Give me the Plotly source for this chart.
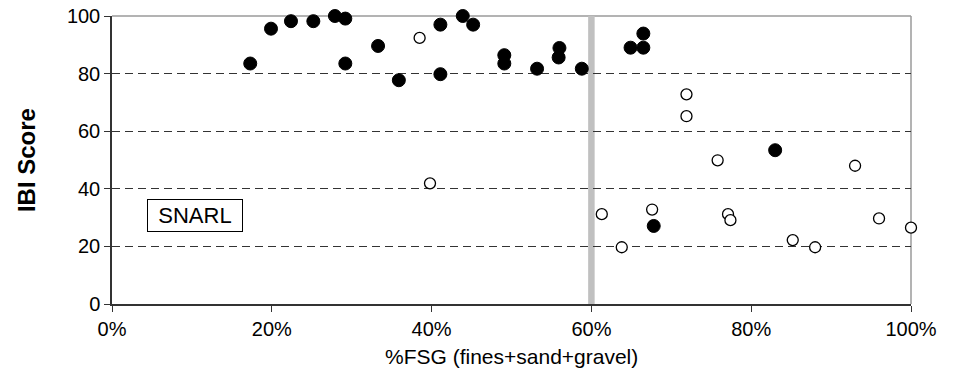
import plotly.graph_objects as go

# Filled (black) sites
filled_fsg = [0.173, 0.199, 0.224, 0.252, 0.279, 0.292, 0.292, 0.333, 0.359, 0.411, 0.411,
              0.439, 0.452, 0.491, 0.491, 0.532, 0.560, 0.559, 0.588, 0.649, 0.665, 0.665,
              0.678, 0.830]
filled_ibi = [83.5, 95.6, 98.2, 98.2, 100.0, 99.1, 83.5, 89.6, 77.7, 97.0, 79.8,
              100.0, 97.0, 86.4, 83.5, 81.7, 88.9, 85.6, 81.7, 89.0, 89.0, 93.9,
              27.1, 53.4]

# Open (white) sites
open_fsg = [0.385, 0.398, 0.613, 0.638, 0.676, 0.719, 0.719, 0.758, 0.771, 0.774,
            0.852, 0.880, 0.930, 0.960, 1.000]
open_ibi = [92.4, 41.9, 31.2, 19.7, 32.8, 72.8, 65.2, 49.9, 31.2, 29.1,
            22.2, 19.7, 48.0, 29.7, 26.5]

threshold = 0.60
x_ticks = [0, 0.2, 0.4, 0.6, 0.8, 1.0]
x_ticklabels = ["0%", "20%", "40%", "60%", "80%", "100%"]
y_ticks = [0, 20, 40, 60, 80, 100]

FONT = "Liberation Sans, Arial, sans-serif"

fig = go.Figure()

fig.add_trace(go.Scatter(
    x=filled_fsg, y=filled_ibi, mode="markers",
    marker=dict(symbol="circle", size=13, color="black", line=dict(color="black", width=1)),
    cliponaxis=False, showlegend=False,
))
fig.add_trace(go.Scatter(
    x=open_fsg, y=open_ibi, mode="markers",
    marker=dict(symbol="circle", size=11, color="white", line=dict(color="black", width=1.3)),
    cliponaxis=False, showlegend=False,
))

# threshold bar
fig.add_shape(type="line", xref="x", yref="y", x0=threshold, x1=threshold, y0=0, y1=100,
              line=dict(color="#c0c0c0", width=6.5), layer="below")
# top / right border
fig.add_shape(type="line", xref="paper", yref="paper", x0=0, x1=1, y0=1, y1=1,
              line=dict(color="#9a9a9a", width=1.5), layer="below")
fig.add_shape(type="line", xref="paper", yref="paper", x0=1, x1=1, y0=0, y1=1,
              line=dict(color="#9a9a9a", width=1.5), layer="below")

fig.add_annotation(
    x=0.104, y=30.7, xref="x", yref="y", text="SNARL", showarrow=False,
    font=dict(family=FONT, size=22, color="black"),
    bordercolor="black", borderwidth=1, borderpad=3, bgcolor="white",
    width=88, height=25, align="center",
    xanchor="center", yanchor="middle",
)

fig.update_xaxes(
    range=[0, 1], tickvals=x_ticks, ticktext=x_ticklabels,
    showgrid=False, zeroline=False, automargin=False, ticklabeloverflow="allow",
    showline=True, linecolor="#333333", linewidth=1.5,
    ticks="outside", ticklen=6, tickcolor="#333333", tickwidth=1,
    tickfont=dict(family=FONT, size=20, color="black"),
)
fig.update_yaxes(
    range=[0, 100], tickvals=y_ticks,
    showgrid=True, gridcolor="#333333", gridwidth=1, griddash="8px,5px",
    zeroline=False, automargin=False, ticklabeloverflow="allow",
    showline=True, linecolor="#333333", linewidth=1.5,
    ticks="outside", ticklen=6, tickcolor="#333333", tickwidth=1,
    tickfont=dict(family=FONT, size=20, color="black"),
)

fig.add_annotation(
    x=0.5, y=-0.184, xref="paper", yref="paper", text="%FSG (fines+sand+gravel)",
    showarrow=False, font=dict(family=FONT, size=21, color="black"),
    xanchor="center", yanchor="middle",
)
fig.add_annotation(
    x=-0.1075, y=0.5, xref="paper", yref="paper", text="<b>IBI Score</b>",
    showarrow=False, textangle=-90, font=dict(family=FONT, size=24, color="black"),
    xanchor="center", yanchor="middle",
)

fig.update_layout(
    width=954, height=380,
    margin=dict(l=104, r=51, t=8, b=84),
    plot_bgcolor="white", paper_bgcolor="white",
    showlegend=False,
)

fig.write_html("out.html")
